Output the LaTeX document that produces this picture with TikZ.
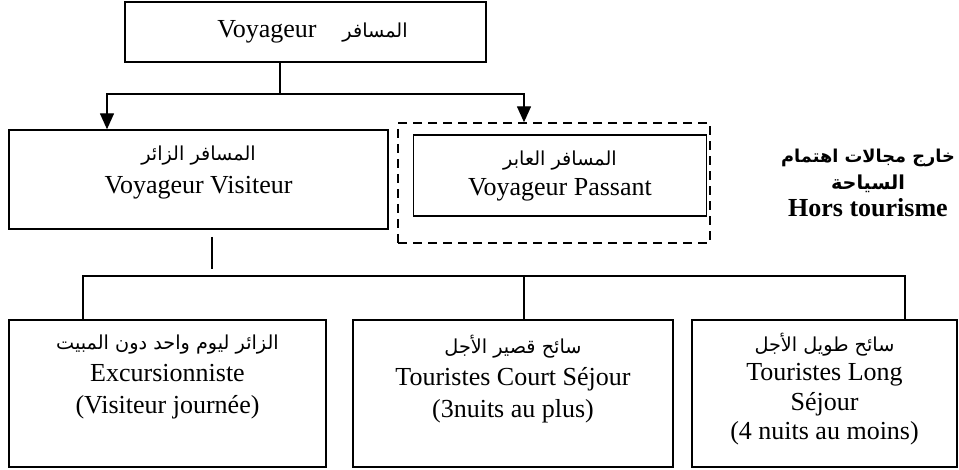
\documentclass[tikz,border=0pt]{standalone}
\usepackage{fontspec}
\setmainfont{Liberation Serif}
\newfontfamily\arabicfont[Script=Arabic,Scale=0.74]{DejaVu Sans}
\TeXXeTstate=1
\usetikzlibrary{arrows.meta,positioning}
\newcommand{\artxt}[1]{{\arabicfont\beginR #1\endR}}

\begin{document}
\begin{tikzpicture}[x=1pt, y=-1pt, line width=1.4pt,
    box/.style={draw, inner sep=0pt},
    zone/.style={draw, inner sep=0pt, dash pattern=on 9pt off 6pt},
    txt/.style={align=center, inner sep=0pt, font=\fontsize{26}{30}\selectfont},
    tip/.style={-{Triangle[width=14pt,length=16pt]}}]
  \useasboundingbox (0,0) rectangle (959,470);

  % Voyageur
  \node[box, minimum width=361pt, minimum height=60pt] (voyageur) at (305.5,32) {};
  \node[txt, xshift=7pt] (voyageurtxt) at (voyageur.center) {Voyageur\quad\artxt{المسافر}};

  % Visiteur / Passant
  \node[box, minimum width=379pt, minimum height=99pt] (visiteur) at (198.5,179.5) {};
  \node[txt, font=\fontsize{26}{33}\selectfont, below=16pt of visiteur.north] (visiteurtxt)
    {\artxt{المسافر الزائر}\\Voyageur Visiteur};
  \node[zone, minimum width=312pt, minimum height=120pt] (passantzone) at (554,183) {};
  \node[box, minimum width=293pt, minimum height=81pt] (passant) at (560,175.5) {};
  \node[txt] (passanttxt) at (passant.center) {\artxt{المسافر العابر}\\Voyageur Passant};
  \node[txt, font=\fontsize{26}{27}\bfseries] (hors) at (868,183)
    {{\fontsize{24}{26}\selectfont\artxt{خارج مجالات اهتمام}}\\\artxt{السياحة}\\Hors tourisme};

  % branches
  \coordinate (split) at (280,94);
  \coordinate (lbranch) at (107,94);
  \coordinate (rbranch) at (524,94);
  \draw (voyageur.south -| split) -- (split);
  \draw[tip] (split) -- (lbranch) -- (lbranch |- visiteur.north);
  \draw[tip] (split) -- (rbranch) -- (rbranch |- passantzone.north);

  % Types de visiteurs
  \node[box, minimum width=317pt, minimum height=147pt] (excursion) at (167.5,393.5) {};
  \node[box, minimum width=320pt, minimum height=147pt] (court) at (513,393.5) {};
  \node[box, minimum width=265pt, minimum height=147pt] (long) at (824.5,393.5) {};
  \node[txt, font=\fontsize{26}{32}\selectfont, below=15pt of excursion.north] (excursiontxt)
    {\artxt{الزائر ليوم واحد دون المبيت}\\Excursionniste\\(Visiteur journée)};
  \node[txt, font=\fontsize{26}{32}\selectfont, below=15pt of court.north] (courttxt)
    {\artxt{سائح قصير الأجل}\\Touristes Court Séjour\\(3nuits au plus)};
  \node[txt, font=\fontsize{26}{29.5}\selectfont, below=13pt of long.north] (longtxt)
    {\artxt{سائح طويل الأجل}\\Touristes Long\\Séjour\\(4 nuits au moins)};

  \coordinate (stubtop) at (212,237);
  \coordinate (stubend) at (212,269);
  \draw (stubtop) -- (stubend);
  \coordinate (busl) at (83,276);
  \coordinate (busm) at (524,276);
  \coordinate (busr) at (905,276);
  \draw (busl |- excursion.north) -- (busl) -- (busr) -- (busr |- long.north);
  \draw (busm) -- (busm |- court.north);
\end{tikzpicture}
\end{document}
